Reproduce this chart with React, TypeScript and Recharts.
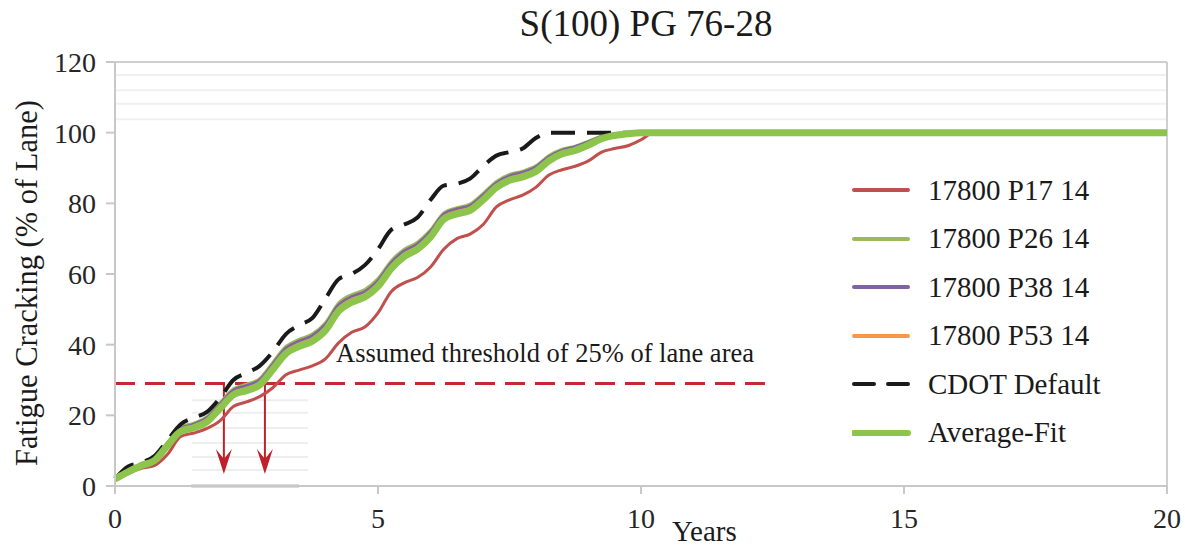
import React from "react";
import { LineChart, Line, XAxis, YAxis, ReferenceLine, ReferenceDot } from "recharts";

// years (0.25 steps up to 10.25, then the flat tail to 20)
const years = [
  0, 0.25, 0.5, 0.75, 1, 1.25, 1.5, 1.75, 2, 2.25, 2.5, 2.75, 3, 3.25, 3.5, 3.75,
  4, 4.25, 4.5, 4.75, 5, 5.25, 5.5, 5.75, 6, 6.25, 6.5, 6.75, 7, 7.25, 7.5, 7.75,
  8, 8.25, 8.5, 8.75, 9, 9.25, 9.5, 9.75, 10, 10.25, 20,
];

const p17 = [
  1.5, 3.5, 5, 5.8, 9, 14, 15, 16.3, 18.5, 22.5, 23.8, 25.3, 27.8, 31.5, 32.8, 34,
  36, 40.5, 43.5, 45, 49, 55, 57.5, 59, 62, 67, 70, 71.3, 74, 79, 81, 82.3,
  84.5, 88, 89.5, 90.5, 92, 94.5, 95.5, 96.3, 98, 100, 100,
];
const p26 = [
  2, 4.2, 6.2, 7.6, 12.3, 16.6, 17.8, 19.6, 23.6, 27.5, 28.8, 30.4, 35, 39.5, 41.5, 43,
  46.2, 51.8, 54.2, 55.6, 58.7, 63.7, 67, 69, 72.5, 77.3, 78.8, 79.8, 82.8, 86.2, 88.2, 89.1,
  90.6, 93.5, 95.3, 96.2, 97.6, 99, 99.7, 100, 100, 100, 100,
];
const p38 = [
  2, 4.1, 6.1, 7.5, 12.1, 16.3, 17.5, 19.3, 23.2, 27.1, 28.4, 30, 34.5, 39, 41, 42.5,
  45.7, 51.2, 53.6, 55, 58.1, 63.1, 66.5, 68.5, 72, 76.9, 78.4, 79.4, 82.4, 85.8, 87.8, 88.8,
  90.3, 93.2, 95, 96, 97.4, 98.9, 99.6, 99.9, 100, 100, 100,
];
const p53 = [
  2, 4, 6, 7.4, 11.8, 16, 17, 18.8, 22.6, 26.4, 27.7, 29.3, 33.8, 38.2, 40.2, 41.7,
  44.8, 50.3, 52.8, 54.2, 57.3, 62.3, 65.7, 67.7, 71.2, 76.2, 77.7, 78.7, 81.7, 85.1, 87.1, 88.1,
  89.6, 92.6, 94.5, 95.5, 96.9, 98.6, 99.4, 99.8, 100, 100, 100,
];
const cdot = [
  2, 5.5, 6.6, 8.5, 13, 17.5, 19.3, 21, 25, 30, 32, 34, 38, 43, 45.5, 47.5,
  53, 58.5, 60, 62.5, 67, 72.5, 74, 76, 81, 85, 85.5, 87, 90.5, 93.5, 94.5, 95.5,
  98.5, 100, 100, 100, 100, 100, 100, 100, 100, 100, 100,
];
const avgFit = [
  2, 4, 5.8, 7.2, 11.5, 15.5, 16.5, 18.2, 22, 25.8, 27, 28.6, 33, 37.5, 39.5, 41,
  44, 49.5, 52, 53.5, 56.5, 61.5, 65, 67, 70.5, 75.5, 77, 78, 81, 84.5, 86.5, 87.5,
  89, 92, 94, 95, 96.5, 98.3, 99.2, 99.7, 100, 100, 100,
];

const xTicks = [0, 5, 10, 15, 20];
const yTicks = [0, 20, 40, 60, 80, 100, 120];

const threshold = 29;
const thresholdEnd = 12.4;
const arrowYears = [2.07, 2.85];
const arrowTip = 3.4;

// faint leftover lines seen in the source image
const faintTop = [116.3, 112, 108.2, 103.8];
const faintLow = [24.3, 20.7, 16.4, 12.2, 8.2, 4.5];

const series = [
  { key: "p17", name: "17800 P17 14", color: "#C0504D", width: 3 },
  { key: "p26", name: "17800 P26 14", color: "#9BBB59", width: 3 },
  { key: "p38", name: "17800 P38 14", color: "#8064A2", width: 3 },
  { key: "p53", name: "17800 P53 14", color: "#F79646", width: 3 },
  { key: "cdot", name: "CDOT Default", color: "#1A1A1A", width: 4, dash: "24 12" },
  { key: "avg", name: "Average-Fit", color: "#8DC44B", width: 7 },
];

const data = years.map((y, i) => ({
  year: y,
  p17: p17[i],
  p26: p26[i],
  p38: p38[i],
  p53: p53[i],
  cdot: cdot[i],
  avg: avgFit[i],
}));

const FONT = "'Liberation Serif', 'Times New Roman', serif";
const tickStyle = { fontFamily: FONT, fontSize: 28, fill: "#262626" };

const ArrowHead = (props: any) => {
  const { cx, cy } = props;
  return (
    <path
      d={`M${cx},${cy} L${cx - 8},${cy - 25} L${cx},${cy - 15} L${cx + 8},${cy - 25} Z`}
      fill="#C0202A"
    />
  );
};

const Legend = () => (
  <div style={{ position: "absolute", left: 852, top: 166, fontFamily: FONT, fontSize: 29, color: "#1A1A1A" }}>
    {series.map((s) => (
      <div key={s.key} style={{ display: "flex", alignItems: "center", height: 48.5 }}>
        <svg width={60} height={10} style={{ marginRight: 16 }}>
          <line
            x1={2}
            y1={5}
            x2={56}
            y2={5}
            stroke={s.color}
            strokeWidth={s.key === "avg" ? 6 : 4}
            strokeLinecap="round"
            strokeDasharray={s.dash ? "20 14" : undefined}
          />
        </svg>
        <span>{s.name}</span>
      </div>
    ))}
  </div>
);

export default function App() {
  return (
    <div style={{ position: "absolute", left: 0, top: 0, width: 1185, height: 548, background: "#fff", fontFamily: FONT }}>
      <div style={{ position: "absolute", left: 0, width: 1292, top: 2, textAlign: "center", fontSize: 37, color: "#1A1A1A" }}>
        S(100) PG 76-28
      </div>
      <LineChart width={1185} height={548} data={data} margin={{ top: 62, right: 18, bottom: 32, left: 55 }}>
        <XAxis
          dataKey="year"
          type="number"
          domain={[0, 20]}
          ticks={xTicks}
          tick={tickStyle}
          tickSize={8}
          tickMargin={14}
          height={30}
          stroke="#C8C8C8"
          strokeWidth={2}
          interval={0}
        />
        <YAxis
          type="number"
          domain={[0, 120]}
          ticks={yTicks}
          tick={tickStyle}
          tickSize={9}
          tickMargin={10}
          width={60}
          stroke="#C8C8C8"
          strokeWidth={2}
          interval={0}
        />
        {faintTop.map((v) => (
          <ReferenceLine key={`ft${v}`} y={v} stroke="#F0F0F0" strokeWidth={2} />
        ))}
        {faintLow.map((v) => (
          <ReferenceLine key={`fl${v}`} segment={[{ x: 1.46, y: v }, { x: 3.67, y: v }]} stroke="#EEEEEE" strokeWidth={2} />
        ))}
        <ReferenceLine segment={[{ x: 1.45, y: 0 }, { x: 3.5, y: 0 }]} stroke="#B8B8B8" strokeWidth={3} />
        <ReferenceLine y={120} stroke="#CFCFCF" strokeWidth={2} />
        <ReferenceLine x={20} stroke="#CFCFCF" strokeWidth={2} />
        <ReferenceLine
          segment={[{ x: 0, y: threshold }, { x: thresholdEnd, y: threshold }]}
          stroke="#C62830"
          strokeWidth={3}
          strokeDasharray="20 10"
        />
        {arrowYears.map((x) => (
          <ReferenceLine key={`as${x}`} segment={[{ x, y: threshold }, { x, y: arrowTip + 3 }]} stroke="#C0202A" strokeWidth={2} />
        ))}
        {arrowYears.map((x) => (
          <ReferenceDot key={`ah${x}`} x={x} y={arrowTip} r={1} shape={ArrowHead} />
        ))}
        {series.map((s) => (
          <Line
            key={s.key}
            dataKey={s.key}
            name={s.name}
            type="monotone"
            stroke={s.color}
            strokeWidth={s.width}
            strokeDasharray={s.dash}
            dot={false}
            isAnimationActive={false}
          />
        ))}
      </LineChart>
      <div style={{ position: "absolute", left: 336, top: 338, fontSize: 26.5, color: "#1A1A1A" }}>
        Assumed threshold of 25% of lane area
      </div>
      <div style={{ position: "absolute", left: 672, top: 515, fontSize: 29, color: "#1A1A1A" }}>Years</div>
      <div
        style={{
          position: "absolute",
          left: 27,
          top: 283,
          transform: "translate(-50%, -50%) rotate(-90deg)",
          whiteSpace: "nowrap",
          fontSize: 30.5,
          color: "#1A1A1A",
        }}
      >
        Fatigue Cracking (% of Lane)
      </div>
      <Legend />
    </div>
  );
}
